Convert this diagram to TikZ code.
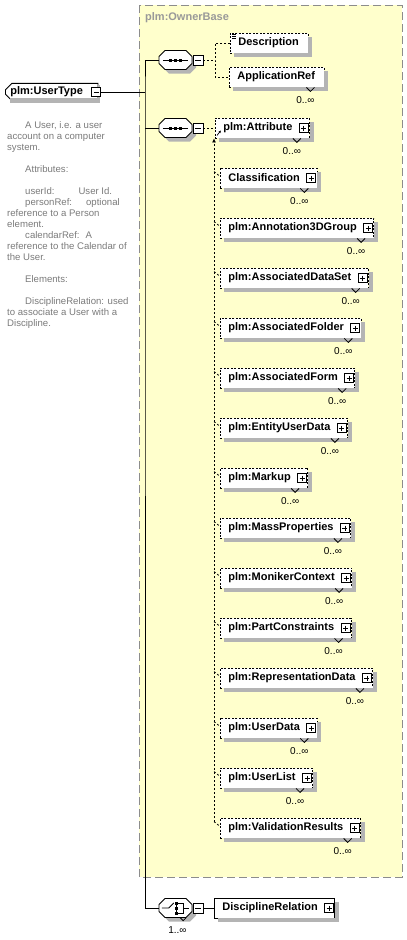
\documentclass[tikz,border=0pt]{standalone}
\usepackage{fontspec}
\setmainfont{Liberation Sans}
\usetikzlibrary{positioning,shapes.misc,calc,arrows.meta}

\definecolor{ownerfill}{HTML}{FFFFCC}
\definecolor{ownerline}{HTML}{8C8C8C}
\definecolor{ownergray}{HTML}{999999}
\definecolor{shadegray}{HTML}{B4B4B4}
\definecolor{docgray}{HTML}{7A7A7A}

% octagon outline of a compositor, drawn from its centre
\newcommand{\octpath}{++(-16.5,-3.5) -- ++(6,-6) -- ++(21,0) -- ++(6,6) -- ++(0,7) -- ++(-6,6) -- ++(-21,0) -- ++(-6,-6) -- cycle}
% grey shadow strips below and right of a named box
\newcommand{\boxshade}[2][4]{%
  \fill[shadegray] ($(#2.north east)+(0,#1)$) rectangle ($(#2.south east)+(#1,#1)$);
  \fill[shadegray] ($(#2.south west)+(#1,0)$) rectangle ($(#2.south east)+(#1,#1)$);}

\tikzset{
  elemfont/.style={font=\fontsize{11}{13}\selectfont\bfseries},
  elembox/.style={draw, line width=0.8pt, fill=white, elemfont, inner xsep=2pt, inner ysep=0pt,
    minimum height=20pt, anchor=west,
    execute at begin node={\hspace*{6pt}}},
  optbox/.style={elembox, dash pattern=on 2pt off 1.5pt},
  kidbox/.style={execute at end node={\hspace*{15pt}}},
  leafbox/.style={execute at end node={\hspace*{7pt}}},
  utbox/.style={draw, line width=0.8pt, fill=white, elemfont, chamfered rectangle,
    chamfered rectangle corners={north west,south west}, chamfered rectangle xsep=3pt,
    inner xsep=2pt, inner ysep=0pt, minimum height=17pt, anchor=west,
    execute at end node={\hspace*{10pt}}},
  signbox/.style={draw, line width=0.8pt, fill=white, minimum size=9pt, inner sep=0pt},
  plusbox/.style={signbox, path picture={
      \draw ([xshift=2pt]path picture bounding box.west) -- ([xshift=-2pt]path picture bounding box.east);
      \draw ([yshift=-2pt]path picture bounding box.north) -- ([yshift=2pt]path picture bounding box.south);}},
  minusbox/.style={signbox, minimum size=10pt, path picture={
      \draw ([xshift=2pt]path picture bounding box.west) -- ([xshift=-2pt]path picture bounding box.east);}},
  compbox/.style={rectangle, minimum width=33pt, minimum height=19pt, inner sep=0pt},
  solidlink/.style={line width=0.8pt},
  optlink/.style={line width=0.8pt, dash pattern=on 2pt off 2pt},
  mult/.style={font=\fontsize{10}{12}\selectfont, inner sep=0pt},
  notch/.style={line width=0.8pt},
  doctext/.style={anchor=north west, align=left, inner sep=0pt, text=docgray,
    font=\fontsize{9.6}{11}\selectfont}
}

\begin{document}
\begin{tikzpicture}[x=1pt, y=-1pt]
    \useasboundingbox (0,0) rectangle (407,940);

    % owner base group
    \draw[ownerline, fill=ownerfill, line width=0.8pt, dash pattern=on 8pt off 4pt] (139,5) rectangle (402,877);
    \node[elemfont, text=ownergray, anchor=west, inner sep=0pt] (ownertitle) at (145,18) {plm:OwnerBase};

    % the type itself
    \node[utbox] (ut) at (5,92) {plm:UserType};
    \boxshade[2]{ut}
    \node[minusbox, minimum size=9pt] (um) at ($(ut.east)+(-2,0)$) {};

    \node[doctext] (doc) at (7,121) {%
        \hspace*{18pt}A User, i.e. a user\\
        account on a computer\\
        system.\\[11pt]
        \hspace*{18pt}Attributes:\\[11pt]
        \hspace*{18pt}userId:\hspace*{24pt}User Id.\\
        \hspace*{18pt}personRef:\hspace*{14pt}optional\\
        reference to a Person\\
        element.\\
        \hspace*{18pt}calendarRef:\hspace*{6pt}A\\
        reference to the Calendar of\\
        the User.\\[11pt]
        \hspace*{18pt}Elements:\\[11pt]
        \hspace*{18pt}DisciplineRelation: used\\
        to associate a User with a\\
        Discipline.};

    % compositors
    \node[compbox] (seq1) at (175.5,60) {};
    \node[compbox] (seq2) at (175.5,128) {};
    \node[compbox] (ch3) at (175.5,908) {};
    \foreach \c in {seq1,seq2,ch3} {
        \fill[shadegray] ($(\c.center)+(4,4)$) \octpath;
        \draw[solidlink, fill=white] (\c.center) \octpath;
    }
    \node[minusbox] (sm1) at (198,60) {};
    \node[minusbox] (sm2) at (198,128) {};
    \node[minusbox] (sm3) at (198,908) {};

    % sequence symbols
    \foreach \c in {seq1,seq2} {
        \draw[solidlink] ($(\c.west)+(4,0)$) -- ($(\c.east)+(-4,0)$);
        \foreach \dx in {-5,0,5} {
            \fill ($(\c.center)+(\dx,0)$) +(-1.5,-1.5) rectangle +(1.5,1.5);
        }
    }
    % choice symbol
    \draw[solidlink] ($(ch3.west)+(3,0)$) -- ++(7,0) -- ++(5,-5);
    \draw[solidlink] ($(ch3.center)+(1,-5)$) -- ++(0,10);
    \foreach \dy in {-5,0,5} {
        \fill ($(ch3.center)+(1,\dy)$) +(-1.5,-1.5) rectangle +(1.5,1.5);
    }
    \draw[solidlink] ($(ch3.center)+(2.5,-5)$) -- ++(5,0) -- ++(0,10) -- ++(-5,0);
    \draw[solidlink] ($(ch3.center)+(7.5,0)$) -- ($(ch3.east)+(-3,0)$);
    \draw[notch] ($(ch3.south east)+(-12,0)$) -- ++(3,3) -- ++(3,-3);
    \node[mult] (chm) at ($(ch3.south)+(2,12)$) {1..∞};

    % main trunk
    \coordinate (jn) at (145,92);
    \draw[solidlink] (um.east) -- (jn);
    \draw[solidlink] (seq1.west) -| (jn) |- (ch3.west);
    \draw[solidlink] (jn |- seq2.west) -- (seq2.west);

    % first sequence
    \node[optbox, leafbox] (desc) at (230,43) {Description};
    \boxshade{desc}
    \foreach \k in {0,1,2} {
        \draw[line width=0.6pt] ($(desc.north west)+(2,{2+2*\k})$) -- ++(4,0);
    }
    \node[optbox, leafbox] (app) at (229,77) {ApplicationRef};
    \boxshade{app}
    \draw[notch] ($(app.south east)+(-18,0)$) -- ++(4,4) -- ++(4,-4);
    \node[mult] (appm) at ($(app.south east)+(-19,13)$) {0..∞};
    \coordinate (br1) at (215,60);
    \draw[optlink] (sm1.east) -- (br1);
    \draw[optlink] (desc.west) -| (br1) |- (app.west);

    % substitution group of plm:Attribute
    \coordinate (subfoot) at (214,822);
    \node[optbox, kidbox] (attr) at (215,128) {plm:Attribute};
    \boxshade{attr}
    \node[plusbox] (attrp) at ($(attr.east)+(-6,0)$) {};
    \draw[notch] ($(attr.south east)+(-17,0)$) -- ++(4,4) -- ++(4,-4);
    \node[mult] (attrm) at ($(attr.south east)+(-18,13)$) {0..∞};
    \draw[optlink] (sm2.east) -- (attr.west);
    \draw[optlink, -{Latex[length=4pt,width=4pt]}] (subfoot) -- (subfoot |- attr.south);
    \draw[line width=0.7pt, -{Latex[length=2.5pt,width=2.5pt]}] ($(attr.south west)+(2,-3)$) -- ($(attr.south west)+(6,-8)$);

    \foreach \i/\nm in {0/Classification, 1/plm:Annotation3DGroup, 2/plm:AssociatedDataSet,
        3/plm:AssociatedFolder, 4/plm:AssociatedForm, 5/plm:EntityUserData, 6/plm:Markup,
        7/plm:MassProperties, 8/plm:MonikerContext, 9/plm:PartConstraints,
        10/plm:RepresentationData, 11/plm:UserData, 12/plm:UserList, 13/plm:ValidationResults} {
        \node[optbox, kidbox] (s\i) at (220,{178+50*\i}) {\nm};
        \boxshade{s\i}
        \node[plusbox] (p\i) at ($(s\i.east)+(-6,0)$) {};
        \draw[notch] ($(s\i.south east)+(-17,0)$) -- ++(4,4) -- ++(4,-4);
        \node[mult] (n\i) at ($(s\i.south east)+(-18,13)$) {0..∞};
        \draw[optlink] ($(s\i.north west)+(-6,4)$) -- ($(s\i.north west)+(-1,8)$);
    }

    % choice branch
    \node[elembox, kidbox] (dr) at (214,908) {DisciplineRelation};
    \boxshade{dr}
    \node[plusbox] (drp) at ($(dr.east)+(-6,0)$) {};
    \draw[solidlink] (sm3.east) -- (dr.west);
\end{tikzpicture}
\end{document}
